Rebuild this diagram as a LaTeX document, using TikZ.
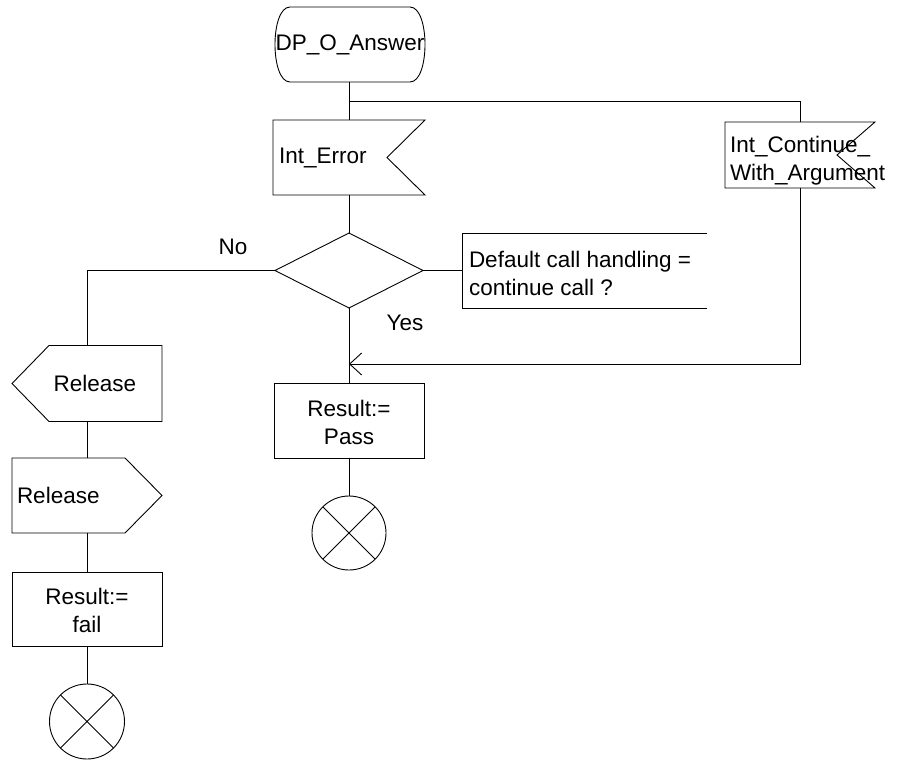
\documentclass[tikz,border=0pt]{standalone}
\usepackage{fontspec}
\setmainfont{Liberation Sans}
\usetikzlibrary{arrows.meta,shapes.geometric}
\begin{document}
\begin{tikzpicture}[x=1pt,y=-1pt,
  font=\fontsize{22.5}{28}\selectfont,
  line width=0.9pt,
  symb/.style={minimum width=150pt,minimum height=75pt,inner sep=0pt,outer sep=0pt},
  txt/.style={inner sep=0pt,outer sep=0pt},
  termcirc/.style={circle,draw,minimum size=74pt,inner sep=0pt,outer sep=0pt},
  flow/.style={draw},
  openarrow/.style={-{Straight Barb[length=12pt,width=22pt,line width=0.9pt]}}
]
\useasboundingbox (0,0) rectangle (900,760);

% start symbol
\node[symb] (start) at (350,44.5) {};
\node[txt] (startt) at (350,44.5) {DP\_O\_Answer};
\draw ([xshift=15pt]start.north west) -- ([xshift=-15pt]start.north east)
  .. controls ([xshift=5pt]start.north east) and ([xshift=5pt]start.south east) .. ([xshift=-15pt]start.south east)
  -- ([xshift=15pt]start.south west)
  .. controls ([xshift=-5pt]start.south west) and ([xshift=-5pt]start.north west) .. ([xshift=15pt]start.north west);

% Int_Error input
\node[symb,minimum width=152pt] (err) at (349,157.5) {};
\node[txt,anchor=west] (errt) at ([xshift=6pt]err.west) {Int\_Error};
\draw (err.north west) -- (err.north east) -- ([xshift=-38pt]err.east) -- (err.south east) -- (err.south west) -- cycle;

% Int_Continue_With_Argument input
\node[symb,minimum height=66pt] (cont) at (800,155) {};
\node[txt,anchor=west,align=left] (contt) at ([xshift=5pt,yshift=-6pt]cont.west) {Int\_Continue\_\\With\_Argument};
\draw (cont.north west) -- (cont.north east) -- ([xshift=-38pt]cont.east) -- (cont.south east) -- (cont.south west) -- cycle;

% decision
\node[diamond,draw,minimum width=148pt,minimum height=75pt,inner sep=0pt,outer sep=0pt,aspect=2] (dec) at (349,270.5) {};
% comment
\node[symb,minimum width=245pt] (com) at (584.5,270.5) {};
\node[txt,anchor=west,align=left] (comt) at ([xshift=7pt,yshift=-3pt]com.west) {Default call handling =\\continue call ?};
\draw (com.north east) -- (com.north west) -- (com.south west) -- (com.south east);

\node[txt] (no) at (233,247) {No};
\node[txt] (yes) at (405,323) {Yes};

% Pass task
\node[symb,draw] (pass) at (349,420.5) {};
\node[txt,align=center] (passt) at (349,422) {Result:=\\Pass};
\node[termcirc] (stop1) at (349,533) {};
\draw (stop1.north west) -- (stop1.south east) (stop1.north east) -- (stop1.south west);

% left column
\node[symb,minimum height=76pt] (rel1) at (87,383.5) {};
\node[txt] (rel1t) at (95,383.5) {Release};
\draw ([xshift=37pt]rel1.north west) -- (rel1.north east) -- (rel1.south east) -- ([xshift=37pt]rel1.south west) -- (rel1.west) -- cycle;

\node[symb] (rel2) at (87,495.5) {};
\node[txt,anchor=west] (rel2t) at ([xshift=5pt]rel2.west) {Release};
\draw (rel2.north west) -- ([xshift=-37pt]rel2.north east) -- (rel2.east) -- ([xshift=-37pt]rel2.south east) -- (rel2.south west) -- cycle;

\node[symb,draw,minimum height=74pt] (fail) at (87,609) {};
\node[txt,align=center] (failt) at (87,610) {Result:=\\fail};
\node[termcirc,minimum size=75pt] (stop2) at (87,721.5) {};
\draw (stop2.north west) -- (stop2.south east) (stop2.north east) -- (stop2.south west);

% connectors
\coordinate (br) at (349,101);
\coordinate (brr) at (800,101);
\coordinate (ret) at (800,364);
\coordinate (retin) at (349,364);
\coordinate (nol) at (87,270.5);
\draw[flow] (start.south -| err.north) -- (err.north);
\draw[flow] (br) -- (brr) -- (cont.north);
\draw[flow] (err.south) -- (dec.north);
\draw[flow] (dec.east) -- (com.west);
\draw[flow] (dec.south) -- (pass.north);
\draw[flow,openarrow] (cont.south) -- (ret) -- (retin);
\draw[flow] (dec.west) -- (nol) -- (rel1.north);
\draw[flow] (rel1.south) -- (rel2.north);
\draw[flow] (rel2.south) -- (fail.north);
\draw[flow] (fail.south) -- (stop2.north);
\draw[flow] (pass.south) -- (stop1.north);
\end{tikzpicture}
\end{document}
